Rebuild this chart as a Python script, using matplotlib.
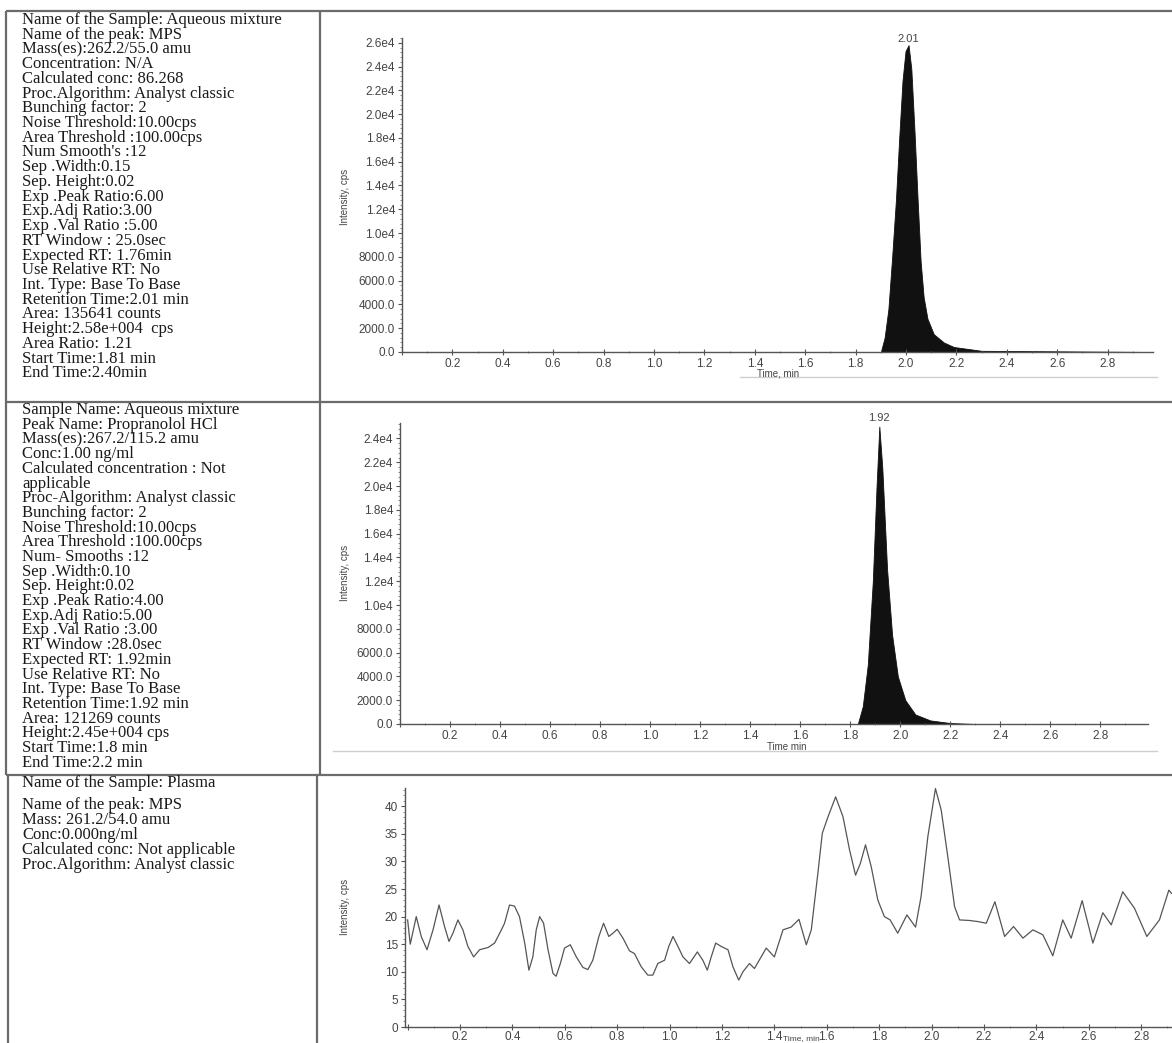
import matplotlib.pyplot as plt
from matplotlib.ticker import MultipleLocator, FuncFormatter

# Texte de la colonne de gauche
info_mps = [
    "Name of the Sample: Aqueous mixture",
    "Name of the peak: MPS",
    "Mass(es):262.2/55.0 amu",
    "Concentration: N/A",
    "Calculated conc: 86.268",
    "Proc.Algorithm: Analyst classic",
    "Bunching factor: 2",
    "Noise Threshold:10.00cps",
    "Area Threshold :100.00cps",
    "Num Smooth's :12",
    "Sep .Width:0.15",
    "Sep. Height:0.02",
    "Exp .Peak Ratio:6.00",
    "Exp.Adj Ratio:3.00",
    "Exp .Val Ratio :5.00",
    "RT Window : 25.0sec",
    "Expected RT: 1.76min",
    "Use Relative RT: No",
    "Int. Type: Base To Base",
    "Retention Time:2.01 min",
    "Area: 135641 counts",
    "Height:2.58e+004  cps",
    "Area Ratio: 1.21",
    "Start Time:1.81 min",
    "End Time:2.40min",
]
info_prop = [
    "Sample Name: Aqueous mixture",
    "Peak Name: Propranolol HCl",
    "Mass(es):267.2/115.2 amu",
    "Conc:1.00 ng/ml",
    "Calculated concentration : Not",
    "applicable",
    "Proc-Algorithm: Analyst classic",
    "Bunching factor: 2",
    "Noise Threshold:10.00cps",
    "Area Threshold :100.00cps",
    "Num- Smooths :12",
    "Sep .Width:0.10",
    "Sep. Height:0.02",
    "Exp .Peak Ratio:4.00",
    "Exp.Adj Ratio:5.00",
    "Exp .Val Ratio :3.00",
    "RT Window :28.0sec",
    "Expected RT: 1.92min",
    "Use Relative RT: No",
    "Int. Type: Base To Base",
    "Retention Time:1.92 min",
    "Area: 121269 counts",
    "Height:2.45e+004 cps",
    "Start Time:1.8 min",
    "End Time:2.2 min",
]
info_plasma = [
    "Name of the Sample: Plasma",
    "Name of the peak: MPS",
    "Mass: 261.2/54.0 amu",
    "Conc:0.000ng/ml",
    "Calculated conc: Not applicable",
    "Proc.Algorithm: Analyst classic",
]

# Pic MPS (solution aqueuse)
t_mps = [0.0, 1.90, 1.915, 1.93, 1.945, 1.96, 1.973, 1.986, 1.998, 2.01,
         2.021, 2.034, 2.046, 2.058, 2.07, 2.085, 2.11, 2.15, 2.19, 2.30, 2.98]
i_mps = [0, 0, 1200, 3600, 8000, 12800, 18000, 22800, 25300, 25800,
         23800, 18400, 12800, 7600, 4600, 2800, 1500, 800, 420, 100, 0]

# Pic propranolol
t_prop = [0.0, 1.83, 1.85, 1.87, 1.89, 1.905, 1.916, 1.928, 1.947, 1.967,
          1.99, 2.02, 2.06, 2.12, 2.20, 2.30, 2.99]
i_prop = [0, 0, 1500, 5000, 12000, 20000, 25000, 21500, 13000, 7500,
          4000, 2000, 800, 300, 80, 0, 0]

# Plasma (bruit de fond)
t_plasma = [0.0, 0.01, 0.033, 0.052, 0.074, 0.097, 0.12, 0.141, 0.158, 0.173,
            0.192, 0.211, 0.23, 0.252, 0.275, 0.307, 0.332, 0.358, 0.37, 0.389,
            0.408, 0.427, 0.447, 0.463, 0.478, 0.491, 0.504, 0.519, 0.536,
            0.555, 0.567, 0.583, 0.599, 0.621, 0.644, 0.669, 0.688, 0.707,
            0.73, 0.748, 0.768, 0.784, 0.8, 0.822, 0.847, 0.866, 0.892, 0.917,
            0.936, 0.955, 0.981, 0.997, 1.013, 1.032, 1.051, 1.076, 1.106,
            1.127, 1.144, 1.159, 1.176, 1.197, 1.223, 1.242, 1.264, 1.28,
            1.305, 1.324, 1.369, 1.40, 1.433, 1.464, 1.494, 1.522, 1.541,
            1.566, 1.583, 1.605, 1.634, 1.662, 1.687, 1.71, 1.728, 1.748,
            1.77, 1.795, 1.82, 1.842, 1.871, 1.906, 1.939, 1.96, 1.986, 2.015,
            2.037, 2.062, 2.088, 2.107, 2.145, 2.177, 2.209, 2.242, 2.279,
            2.313, 2.349, 2.387, 2.425, 2.463, 2.501, 2.533, 2.575, 2.616,
            2.654, 2.686, 2.73, 2.775, 2.822, 2.87, 2.906, 2.916]
i_plasma = [19.4, 15.0, 20.0, 16.4, 14.0, 17.6, 22.1, 18.2, 15.5, 17.0,
            19.4, 17.6, 14.6, 12.7, 14.0, 14.4, 15.2, 17.6, 18.8, 22.1,
            21.9, 20.0, 15.2, 10.3, 12.7, 17.6, 20.0, 18.8, 14.0,
            9.7, 9.2, 11.5, 14.3, 14.9, 12.7, 10.8, 10.4, 12.1,
            16.4, 18.8, 16.4, 17.0, 17.7, 16.1, 13.8, 13.3, 10.9, 9.4,
            9.4, 11.5, 12.1, 14.6, 16.4, 14.6, 12.7, 11.5, 13.6,
            12.1, 10.3, 12.7, 15.2, 14.6, 14.0, 10.9, 8.5, 10.0,
            11.5, 10.6, 14.3, 12.7, 17.6, 18.1, 19.5, 14.9, 17.6,
            27.8, 35.1, 38.1, 41.7, 38.1, 32.1, 27.5, 29.6, 33.0,
            29.0, 23.0, 20.0, 19.4, 17.0, 20.3, 18.1, 23.6, 34.5, 43.2,
            39.3, 30.9, 21.8, 19.4, 19.3, 19.1, 18.8, 22.7, 16.4,
            18.2, 16.1, 17.6, 16.7, 12.9, 19.4, 16.1, 22.9, 15.2,
            20.7, 18.5, 24.5, 21.5, 16.4, 19.4, 24.8, 24.2]

W, H = 1172, 1043
fig = plt.figure(figsize=(W / 100, H / 100), dpi=100)

# Fond en coordonnées pixels pour le tableau et le texte
bg = fig.add_axes([0, 0, 1, 1])
bg.set_xlim(0, W)
bg.set_ylim(H, 0)
bg.axis("off")

grid_col = "#6b6b6b"
for (x0, x1, y0, y1) in [
    (6, W, 11, 11), (6, W, 402, 402), (6, W, 775, 775),
    (6, 6, 11, 775), (8, 8, 775, H), (320, 320, 11, 775), (317, 317, 775, H),
]:
    bg.plot([x0, x1], [y0, y1], color=grid_col, lw=1.6, solid_capstyle="butt")

# lignes grises sous les axes des temps
bg.plot([740, 1157], [377, 377], color="#cfcfcf", lw=1)
bg.plot([333, 1157], [751, 751], color="#cfcfcf", lw=1)

serif = {"family": "Liberation Serif", "size": 12, "color": "#1a1a1a"}
for k, s in enumerate(info_mps):
    bg.text(22, 20 + k * 14.72, s, va="center", ha="left", **serif)
for k, s in enumerate(info_prop):
    bg.text(22, 410 + k * 14.7, s, va="center", ha="left", **serif)
y_plasma = [783, 805, 820, 835, 850, 865]
for y, s in zip(y_plasma, info_plasma):
    bg.text(22, y, s, va="center", ha="left", **serif)

sans = {"family": "Liberation Sans", "color": "#444444"}


def fmt_big(v, pos):
    if v >= 10000:
        return f"{v / 1e4:.1f}e4"
    return f"{v:.1f}"


def style_axis(ax):
    for side in ("top", "right"):
        ax.spines[side].set_visible(False)
    for side in ("left", "bottom"):
        ax.spines[side].set_color("#555555")
        ax.spines[side].set_linewidth(1.0)
    ax.set_facecolor("none")
    ax.xaxis.set_major_locator(MultipleLocator(0.2))
    ax.xaxis.set_minor_locator(MultipleLocator(0.1))
    ax.xaxis.set_major_formatter(FuncFormatter(lambda v, p: "" if v < 0.1 else f"{v:.1f}"))
    ax.tick_params(axis="x", which="major", direction="inout", length=4, width=0.8,
                   colors="#555555", labelcolor="#444444", labelsize=8.5, pad=2)
    ax.tick_params(axis="x", which="minor", direction="inout", length=2, width=0.6, colors="#777777")
    ax.tick_params(axis="y", which="major", direction="out", length=3, width=0.8,
                   colors="#555555", labelcolor="#444444", labelsize=8.5, pad=2)
    ax.tick_params(axis="y", which="minor", direction="out", length=1.5, width=0.6, colors="#777777")
    for lab in ax.get_xticklabels() + ax.get_yticklabels():
        lab.set_family("Liberation Sans")


# Ligne 1 : MPS
ax1 = fig.add_axes([402 / W, 1 - 352 / H, 751 / W, 314 / H])
ax1.fill_between(t_mps, i_mps, color="#111111", lw=0.6)
ax1.set_xlim(0, 2.98)
ax1.set_ylim(0, 26400)
ax1.yaxis.set_major_locator(MultipleLocator(2000))
ax1.yaxis.set_minor_locator(MultipleLocator(400))
ax1.yaxis.set_major_formatter(FuncFormatter(fmt_big))
style_axis(ax1)
ax1.text(2.01, 25900, "2.01", ha="center", va="bottom", fontsize=8, **sans)

# Ligne 2 : Propranolol
ax2 = fig.add_axes([400 / W, 1 - 724 / H, 748 / W, 301 / H])
ax2.fill_between(t_prop, i_prop, color="#111111", lw=0.6)
ax2.set_xlim(0, 2.99)
ax2.set_ylim(0, 25300)
ax2.yaxis.set_major_locator(MultipleLocator(2000))
ax2.yaxis.set_minor_locator(MultipleLocator(400))
ax2.yaxis.set_major_formatter(FuncFormatter(fmt_big))
style_axis(ax2)
ax2.text(1.916, 25300, "1.92", ha="center", va="bottom", fontsize=8,
         clip_on=False, **sans)

# Ligne 3 : plasma
ax3 = fig.add_axes([405 / W, 1 - 1027 / H, 767 / W, 239 / H])
ax3.plot(t_plasma, i_plasma, color="#555555", lw=0.9)
ax3.set_xlim(-0.01, 2.918)
ax3.set_ylim(0, 43.3)
ax3.yaxis.set_major_locator(MultipleLocator(5))
ax3.yaxis.set_minor_locator(MultipleLocator(1))
ax3.yaxis.set_major_formatter(FuncFormatter(lambda v, p: f"{v:.0f}"))
style_axis(ax3)
ax3.tick_params(axis="x", which="major", pad=1)

# Libellés des axes
for y in (197, 573, 907):
    bg.text(345, y, "Intensity, cps", rotation=90, ha="center", va="center",
            fontsize=7, **sans)
bg.text(778, 373, "Time, min", ha="center", va="center", fontsize=7, **sans)
bg.text(787, 747, "Time min", ha="center", va="center", fontsize=7, **sans)
bg.text(801, 1042, "Time, min", ha="center", va="bottom", fontsize=6, **sans)

fig.savefig("out.png", dpi=100)
